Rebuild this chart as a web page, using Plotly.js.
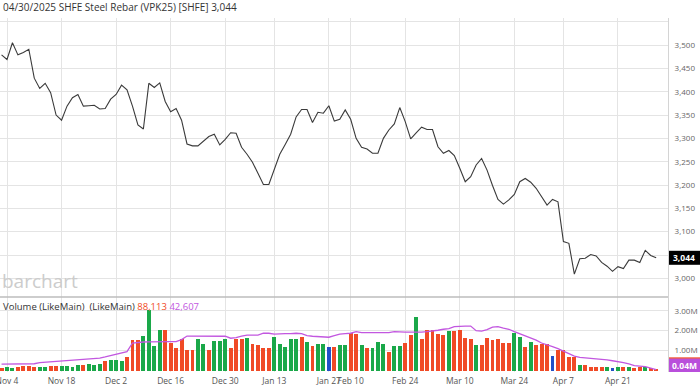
<!DOCTYPE html>
<html>
<head>
<meta charset="utf-8">
<script src="https://cdn.plot.ly/plotly-3.0.1.min.js"></script>
<style>html,body{margin:0;padding:0;background:#fff;}#chart{width:700px;height:389px;}</style>
</head>
<body>
<div id="chart"></div>
<script>
// Trading days, Nov 1 2024 - Apr 30 2025
const dates = [
"2024-11-01","2024-11-04","2024-11-05","2024-11-06","2024-11-07","2024-11-08","2024-11-11","2024-11-12","2024-11-13","2024-11-14","2024-11-15",
"2024-11-18","2024-11-19","2024-11-20","2024-11-21","2024-11-22","2024-11-25","2024-11-26","2024-11-27","2024-11-28","2024-11-29",
"2024-12-02","2024-12-03","2024-12-04","2024-12-05","2024-12-06","2024-12-09","2024-12-10","2024-12-11","2024-12-12","2024-12-13",
"2024-12-16","2024-12-17","2024-12-18","2024-12-19","2024-12-20","2024-12-23","2024-12-24","2024-12-25","2024-12-26","2024-12-27",
"2024-12-30","2024-12-31","2025-01-02","2025-01-03","2025-01-06","2025-01-07","2025-01-08","2025-01-09","2025-01-10",
"2025-01-13","2025-01-14","2025-01-15","2025-01-16","2025-01-17","2025-01-20","2025-01-21","2025-01-22","2025-01-23","2025-01-24",
"2025-01-27","2025-02-05","2025-02-06","2025-02-07",
"2025-02-10","2025-02-11","2025-02-12","2025-02-13","2025-02-14","2025-02-17","2025-02-18","2025-02-19","2025-02-20","2025-02-21",
"2025-02-24","2025-02-25","2025-02-26","2025-02-27","2025-02-28","2025-03-03","2025-03-04","2025-03-05","2025-03-06","2025-03-07",
"2025-03-10","2025-03-11","2025-03-12","2025-03-13","2025-03-14","2025-03-17","2025-03-18","2025-03-19","2025-03-20","2025-03-21",
"2025-03-24","2025-03-25","2025-03-26","2025-03-27","2025-03-28","2025-03-31","2025-04-01","2025-04-02","2025-04-03",
"2025-04-07","2025-04-08","2025-04-09","2025-04-10","2025-04-11","2025-04-14","2025-04-15","2025-04-16","2025-04-17","2025-04-18",
"2025-04-21","2025-04-22","2025-04-23","2025-04-24","2025-04-25","2025-04-28","2025-04-29","2025-04-30"
];

const closePrice = [
3479,3469,3505,3479,3484,3491,3429,3407,3418,3398,3350,
3339,3369,3387,3394,3369,3370,3371,3363,3364,3384,
3394,3414,3404,3369,3329,3320,3418,3409,3419,3379,
3357,3364,3339,3288,3284,3284,3293,3304,3309,3286,
3298,3312,3311,3281,3266,3249,3225,3201,3201,
3232,3266,3287,3309,3346,3362,3362,3334,3356,3354,
3370,3337,3341,3361,
3341,3300,3281,3277,3268,3268,3300,3318,3331,3366,
3336,3299,3312,3324,3319,3319,3282,3268,3274,3263,
3236,3207,3218,3243,3257,3232,3199,3169,3159,3168,
3180,3207,3214,3206,3193,3175,3157,3169,3164,
3079,3075,3009,3042,3043,3051,3048,3034,3026,3015,
3025,3021,3039,3039,3034,3060,3049,3044
];

// Volume in millions of contracts
const volume = [
0.13,0.17,0.15,0.20,0.23,0.22,0.20,0.17,0.18,0.23,0.23,
0.22,0.25,0.20,0.28,0.28,0.35,0.28,0.32,0.47,0.53,
0.53,0.47,0.70,1.53,1.53,1.75,3.03,1.25,2.03,2.03,
1.37,1.12,1.57,1.03,1.03,1.58,1.33,1.03,1.48,1.48,
1.60,1.12,1.57,1.57,1.62,1.33,1.28,1.12,1.12,
1.70,1.33,1.20,1.58,1.58,1.68,1.42,1.25,1.32,1.32,
1.17,1.17,1.28,1.28,
1.87,1.82,1.28,1.12,1.12,1.42,1.33,0.92,1.25,1.25,
1.37,1.80,2.67,1.58,2.03,2.03,1.83,1.80,1.98,1.98,
2.02,1.65,1.58,1.28,1.28,1.62,1.52,1.58,1.37,1.37,
1.90,1.68,1.17,1.43,1.28,1.33,1.32,0.73,1.03,
1.03,0.70,0.67,0.30,0.30,0.18,0.17,0.17,0.17,0.13,
0.18,0.18,0.18,0.13,0.18,0.17,0.12,0.088
];

// Bar direction: u = up (green), d = down (red), f = unchanged (blue)
const volDir = [
"d","u","u","d","d","d","d","u","u","d","d",
"u","u","u","u","d","u","u","u","d","u",
"u","u","d","d","d","u","u","u","u","d",
"d","d","d","d","d","u","u","d","u","u",
"u","d","d","d","u","d","d","d","d",
"u","u","u","u","u","d","u","d","u","u",
"f","d","u","u",
"d","d","u","d","u","u","u","d","u","u",
"d","d","u","d","d","d","d","d","u","d",
"d","d","d","u","d","d","d","d","d","d",
"u","u","d","u","d","d","d","f","d",
"d","d","d","u","d","d","d","d","u","f",
"u","d","u","d","d","u","d","d"
];

// Volume moving average (millions)
const volumeMA = [
0.32,0.32,0.32,0.33,0.33,0.33,0.34,0.40,0.42,0.43,0.45,
0.47,0.48,0.50,0.52,0.53,0.57,0.60,0.62,0.68,0.75,
0.80,0.88,0.95,1.38,1.42,1.43,1.44,1.45,1.45,1.45,
1.45,1.45,1.55,1.73,1.73,1.73,1.73,1.73,1.73,1.73,
1.72,1.62,1.65,1.72,1.78,1.78,1.78,1.87,1.87,
1.83,1.85,1.85,1.85,1.87,1.85,1.75,1.72,1.70,1.67,
1.67,1.75,1.83,1.85,
1.87,1.95,1.90,1.90,1.90,1.90,1.90,1.90,1.95,1.93,
1.93,1.93,1.92,1.93,1.95,1.97,2.02,2.07,2.10,2.20,
2.23,2.23,2.23,2.00,1.98,2.05,2.18,2.20,2.13,2.07,
1.95,1.85,1.73,1.62,1.52,1.38,1.30,1.20,1.10,
0.98,0.83,0.72,0.66,0.64,0.62,0.60,0.57,0.53,0.49,
0.45,0.40,0.33,0.25,0.22,0.19,0.12,0.05
];

const tickDates = ["2024-11-04","2024-11-18","2024-12-02","2024-12-16","2024-12-30","2025-01-13","2025-01-27","2025-02-10","2025-02-24","2025-03-10","2025-03-24","2025-04-07","2025-04-21"];
const tickLabels = ["Nov 4","Nov 18","Dec 2","Dec 16","Dec 30","Jan 13","Jan 27","Feb 10","Feb 24","Mar 10","Mar 24","Apr 7","Apr 21"];

const priceTicks = [3000,3050,3100,3150,3200,3250,3300,3350,3400,3450,3500,3550];
const priceTickText = ["3,000","","3,100","3,150","3,200","3,250","3,300","3,350","3,400","3,450","3,500",""];
const volTicks = [1,2,3];
const volTickText = ["1.00M","2.00M","3.00M"];

const lastPrice = "3,044";
const lastVolume = "88,113";
const lastVolMA = "42,607";
const lastVolMALabel = "0.04M";

const dirColor = {u:"#1aa849", d:"#f04a26", f:"#2150c8"};
const FONT = "'Open Sans', 'Noto Sans', sans-serif";

const traces = [
  {
    type: "scatter", mode: "lines", x: dates, y: closePrice,
    xaxis: "x", yaxis: "y",
    line: {color: "#3a3a3a", width: 1.1}, hoverinfo: "skip"
  },
  {
    type: "bar", x: dates, y: volume, xaxis: "x", yaxis: "y2",
    marker: {color: volDir.map(d => dirColor[d]), line: {width: 0}},
    width: 0.72, hoverinfo: "skip"
  },
  {
    type: "scatter", mode: "lines", x: dates, y: volumeMA,
    xaxis: "x", yaxis: "y2",
    line: {color: "#c257e0", width: 1.3}, hoverinfo: "skip"
  }
];

const priceDomain = [0.2119, 1];
const layout = {
  width: 700, height: 389,
  margin: {l: 0, r: 32, t: 18, b: 17, pad: 0},
  paper_bgcolor: "#fff", plot_bgcolor: "#fff",
  showlegend: false,
  bargap: 0,
  font: {family: FONT, size: 8.5, color: "#555"},
  xaxis: {
    type: "category", anchor: "y2",
    range: [-0.283, 122.17],
    tickmode: "array", tickvals: tickDates, ticktext: tickLabels,
    tickangle: 0, automargin: false,
    showgrid: true, gridcolor: "#e4e4e4", gridwidth: 1,
    ticks: "", showline: false, zeroline: false, ticklabelstandoff: 2,
    tickfont: {family: FONT, size: 8.5, color: "#555"},
    fixedrange: true
  },
  yaxis: {
    domain: priceDomain, side: "right", anchor: "x",
    range: [2960, 3558], automargin: false,
    tickmode: "array", tickvals: priceTicks, ticktext: priceTickText,
    showgrid: true, gridcolor: "#e4e4e4", gridwidth: 1,
    zeroline: false, ticks: "", ticklabelstandoff: 4,
    showline: true, linecolor: "#d4d4d4", linewidth: 1,
    tickfont: {family: FONT, size: 8, color: "#666"}
  },
  yaxis2: {
    domain: [0, priceDomain[0]], side: "right", anchor: "x",
    range: [-0.075, 3.69], automargin: false,
    tickmode: "array", tickvals: volTicks, ticktext: volTickText,
    showgrid: true, gridcolor: "#e4e4e4", gridwidth: 1,
    zeroline: false, ticks: "", ticklabelstandoff: 4,
    showline: true, linecolor: "#d4d4d4", linewidth: 1,
    tickfont: {family: FONT, size: 8, color: "#666"}
  },
  shapes: [
    {type: "line", xref: "paper", yref: "paper", x0: 0, x1: 1, y0: priceDomain[0], y1: priceDomain[0],
     line: {color: "#bdbdbd", width: 1.5}},
    {type: "rect", xref: "paper", yref: "y", x0: 1.0015, x1: 1.048, y0: 3029, y1: 3059,
     fillcolor: "#000", line: {width: 0}},
    {type: "rect", xref: "paper", yref: "y2", x0: 1.0015, x1: 1.048, y0: -0.075, y1: 0.62,
     fillcolor: "#b94fdb", line: {width: 0}},
    {type: "line", xref: "paper", yref: "y2", x0: 1.0015, x1: 1.048, y0: 0.63, y1: 0.63,
     line: {color: "#f04a26", width: 1.2}}
  ],
  annotations: [
    {xref: "paper", yref: "paper", x: 0, y: 1, xanchor: "left", yanchor: "bottom", yshift: 2, xshift: 1,
     text: "04/30/2025 SHFE Steel Rebar (VPK25) [SHFE] " + lastPrice, showarrow: false,
     font: {family: FONT, size: 10, color: "#333"}},
    {xref: "paper", yref: "paper", x: 0, y: priceDomain[0], xanchor: "left", yanchor: "bottom", xshift: 0, yshift: 1,
     text: "barchart", showarrow: false,
     font: {family: FONT, size: 19, color: "#cccccc"}},
    {xref: "paper", yref: "paper", x: 0, y: priceDomain[0], xanchor: "left", yanchor: "top", xshift: 1, yshift: -1,
     text: "Volume (LikeMain)  (LikeMain) <span style='color:#f04a26'>" + lastVolume + "</span> <span style='color:#c257e0'>" + lastVolMA + "</span>",
     showarrow: false, font: {family: FONT, size: 9.5, color: "#333"}},
    {xref: "paper", yref: "y", x: 1.0245, y: 3044, xanchor: "center", yanchor: "middle",
     text: "<b>" + lastPrice + "</b>", showarrow: false,
     font: {family: FONT, size: 8.5, color: "#fff"}},
    {xref: "paper", yref: "y2", x: 1.0245, y: 0.27, xanchor: "center", yanchor: "middle",
     text: "<b>" + lastVolMALabel + "</b>", showarrow: false,
     font: {family: FONT, size: 8.5, color: "#fff"}}
  ]
};

Plotly.newPlot("chart", traces, layout, {displayModeBar: false, staticPlot: true});
</script>
</body>
</html>
